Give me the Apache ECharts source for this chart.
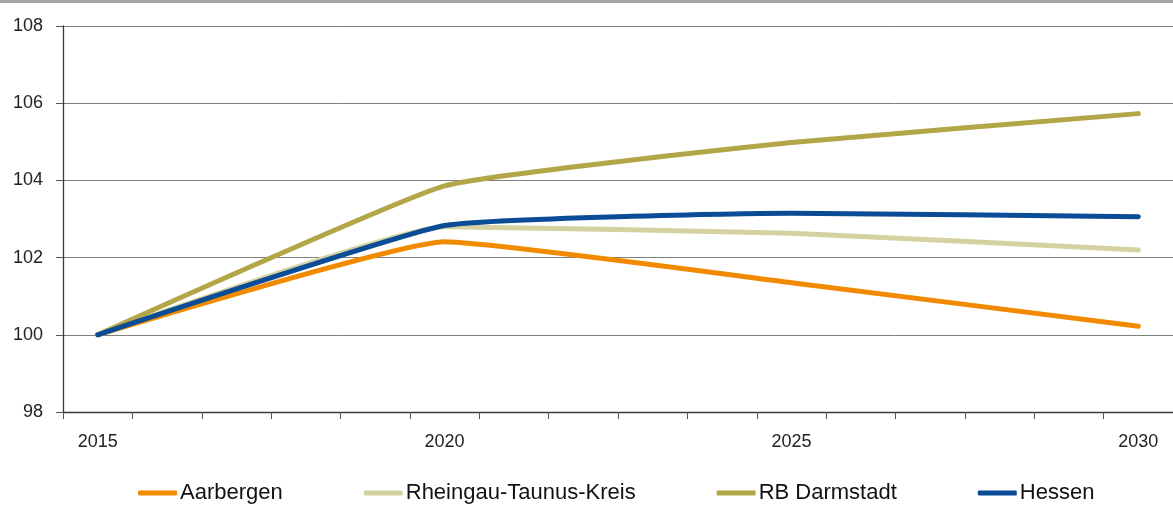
<!DOCTYPE html>
<html>
<head>
<meta charset="utf-8">
<script src="https://cdn.jsdelivr.net/npm/echarts@6/dist/echarts.min.js"></script>
<style>
  html, body { margin: 0; padding: 0; background: #fff; }
  #chart { width: 1173px; height: 503px; border-top: 3px solid #a6a6a6; }
</style>
</head>
<body>
<div id="chart"></div>
<script>
// years on the x axis, values only known for every 5th year
const years = ['2015','2016','2017','2018','2019','2020','2021','2022','2023','2024','2025','2026','2027','2028','2029','2030'];
const aarbergen = [100, null, null, null, null, 102.41, null, null, null, null, 101.35, null, null, null, null, 100.22];
const rheingau  = [100, null, null, null, null, 102.8,  null, null, null, null, 102.63, null, null, null, null, 102.2];
const darmstadt = [100, null, null, null, null, 103.86, null, null, null, null, 104.98, null, null, null, null, 105.73];
const hessen    = [100, null, null, null, null, 102.83, null, null, null, null, 103.15, null, null, null, null, 103.06];

const seriesList = [
  { name: 'Aarbergen', data: aarbergen, color: '#f28a00' },
  { name: 'Rheingau-Taunus-Kreis', data: rheingau, color: '#d5d2a2' },
  { name: 'RB Darmstadt', data: darmstadt, color: '#b3a648' },
  { name: 'Hessen', data: hessen, color: '#0b4c97' }
];

const chart = echarts.init(document.getElementById('chart'));

const font = 'Arial, "Liberation Sans", sans-serif';

chart.setOption({
  animation: false,
  grid: { left: 63, top: 23, width: 1114, bottom: 94 },
  legend: {
    left: 133,
    top: 474,
    itemWidth: 39,
    itemHeight: 5,
    itemGap: 81,
    icon: 'roundRect',
    textStyle: { fontFamily: font, fontSize: 22, color: '#111', padding: [0, 0, 0, -2] },
    data: seriesList.map(s => s.name)
  },
  xAxis: {
    type: 'category',
    data: years,
    boundaryGap: true,
    axisLine: { lineStyle: { color: '#3a3a3a', width: 1.3 } },
    axisTick: { show: true, interval: 0, length: 7, lineStyle: { color: '#555' } },
    axisLabel: { interval: 4, margin: 21, fontFamily: font, fontSize: 18, color: '#222' },
    splitLine: { show: false }
  },
  yAxis: {
    type: 'value',
    min: 98,
    max: 108,
    interval: 2,
    axisLine: { show: true, lineStyle: { color: '#3a3a3a', width: 1.3 } },
    axisTick: { show: true, length: 7, lineStyle: { color: '#555' } },
    axisLabel: { margin: 20, fontFamily: font, fontSize: 18, color: '#222' },
    splitLine: { show: true, lineStyle: { color: '#7f7f7f', width: 1 } }
  },
  series: seriesList.map(s => ({
    name: s.name,
    type: 'line',
    data: s.data,
    connectNulls: true,
    smooth: 0.12,
    symbol: 'none',
    itemStyle: { color: s.color },
    lineStyle: { color: s.color, width: 5, cap: 'round', join: 'round' }
  }))
});
</script>
</body>
</html>
